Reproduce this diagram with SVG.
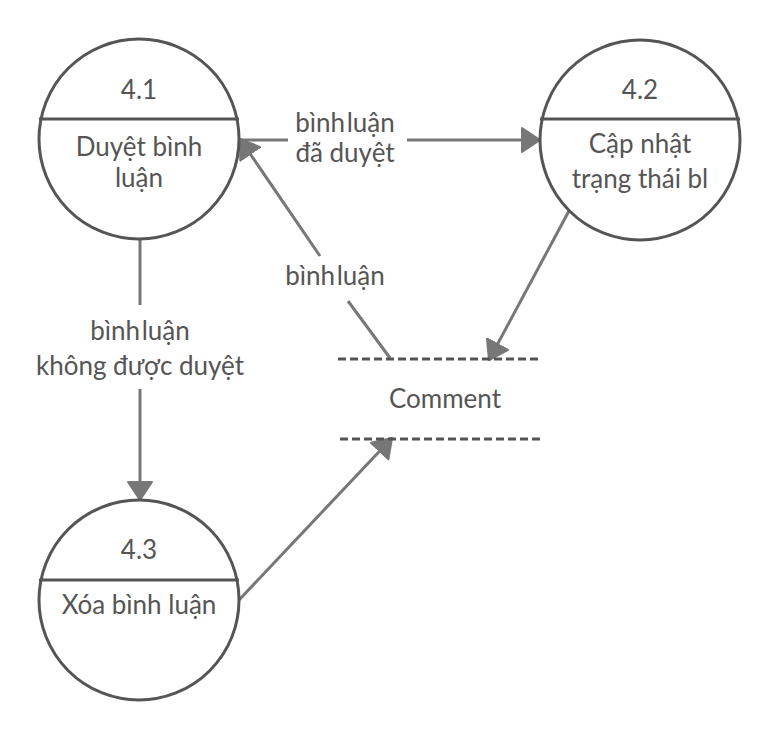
<svg xmlns="http://www.w3.org/2000/svg" width="781" height="740" viewBox="0 0 781 740">
<defs>
<style>
.node circle{fill:#fff;stroke:#555;stroke-width:3}
.node line{stroke:#555;stroke-width:3}
.t{font-family:Lato,"Noto Sans",sans-serif;font-size:26px;fill:#555;text-anchor:middle}
.n{word-spacing:-5px}
.flow{stroke:#777;stroke-width:3;fill:none}
.dash{stroke:#555;stroke-width:3;stroke-dasharray:8 4}
</style>
<marker id="ah" viewBox="0 0 20 26" refX="19" refY="13" markerWidth="20" markerHeight="26" markerUnits="userSpaceOnUse" orient="auto">
<path d="M1,1 L19,13 L1,25 Z" fill="#777" stroke="#777" stroke-width="2" stroke-linejoin="round"/>
</marker>
</defs>
<rect width="781" height="740" fill="#fff"/>
<g id="connectors">
<path class="flow" d="M240,140 H288"/>
<path class="flow" d="M407,140 H540" marker-end="url(#ah)"/>
<path class="flow" d="M390,358 L348,301"/>
<path class="flow" d="M320,256 L240,139" marker-end="url(#ah)"/>
<path class="flow" d="M570,209 L489,360" marker-end="url(#ah)"/>
<path class="flow" d="M239,600 L392,438" marker-end="url(#ah)"/>
<path class="flow" d="M140,240 V305"/>
<path class="flow" d="M140,389 V500" marker-end="url(#ah)"/>
<text class="t n" x="345" y="132">bình luận</text>
<text class="t" x="345" y="162">đã duyệt</text>
<text class="t n" x="335" y="285">bình luận</text>
<text class="t n" x="140" y="340">bình luận</text>
<text class="t" x="140" y="375">không được duyệt</text>
</g>
<g id="n41" class="node">
<circle cx="139" cy="139" r="100"/>
<line x1="39" y1="119" x2="239" y2="119"/>
<text class="t" x="139" y="99">4.1</text>
<text class="t" x="139" y="156">Duyệt bình</text>
<text class="t" x="139" y="187">luận</text>
</g>
<g id="n42" class="node">
<circle cx="640" cy="140" r="100"/>
<line x1="540" y1="119" x2="740" y2="119"/>
<text class="t" x="640" y="99">4.2</text>
<text class="t" x="640" y="153">Cập nhật</text>
<text class="t" x="640" y="188">trạng thái bl</text>
</g>
<g id="n43" class="node">
<circle cx="139" cy="600" r="100"/>
<line x1="39" y1="580" x2="239" y2="580"/>
<text class="t" x="139" y="559">4.3</text>
<text class="t" x="139" y="614">Xóa bình luận</text>
</g>
<g id="store">
<line class="dash" x1="338" y1="359" x2="541" y2="359"/>
<line class="dash" x1="340" y1="439" x2="541" y2="439"/>
<text class="t" x="445" y="408">Comment</text>
</g>
</svg>
